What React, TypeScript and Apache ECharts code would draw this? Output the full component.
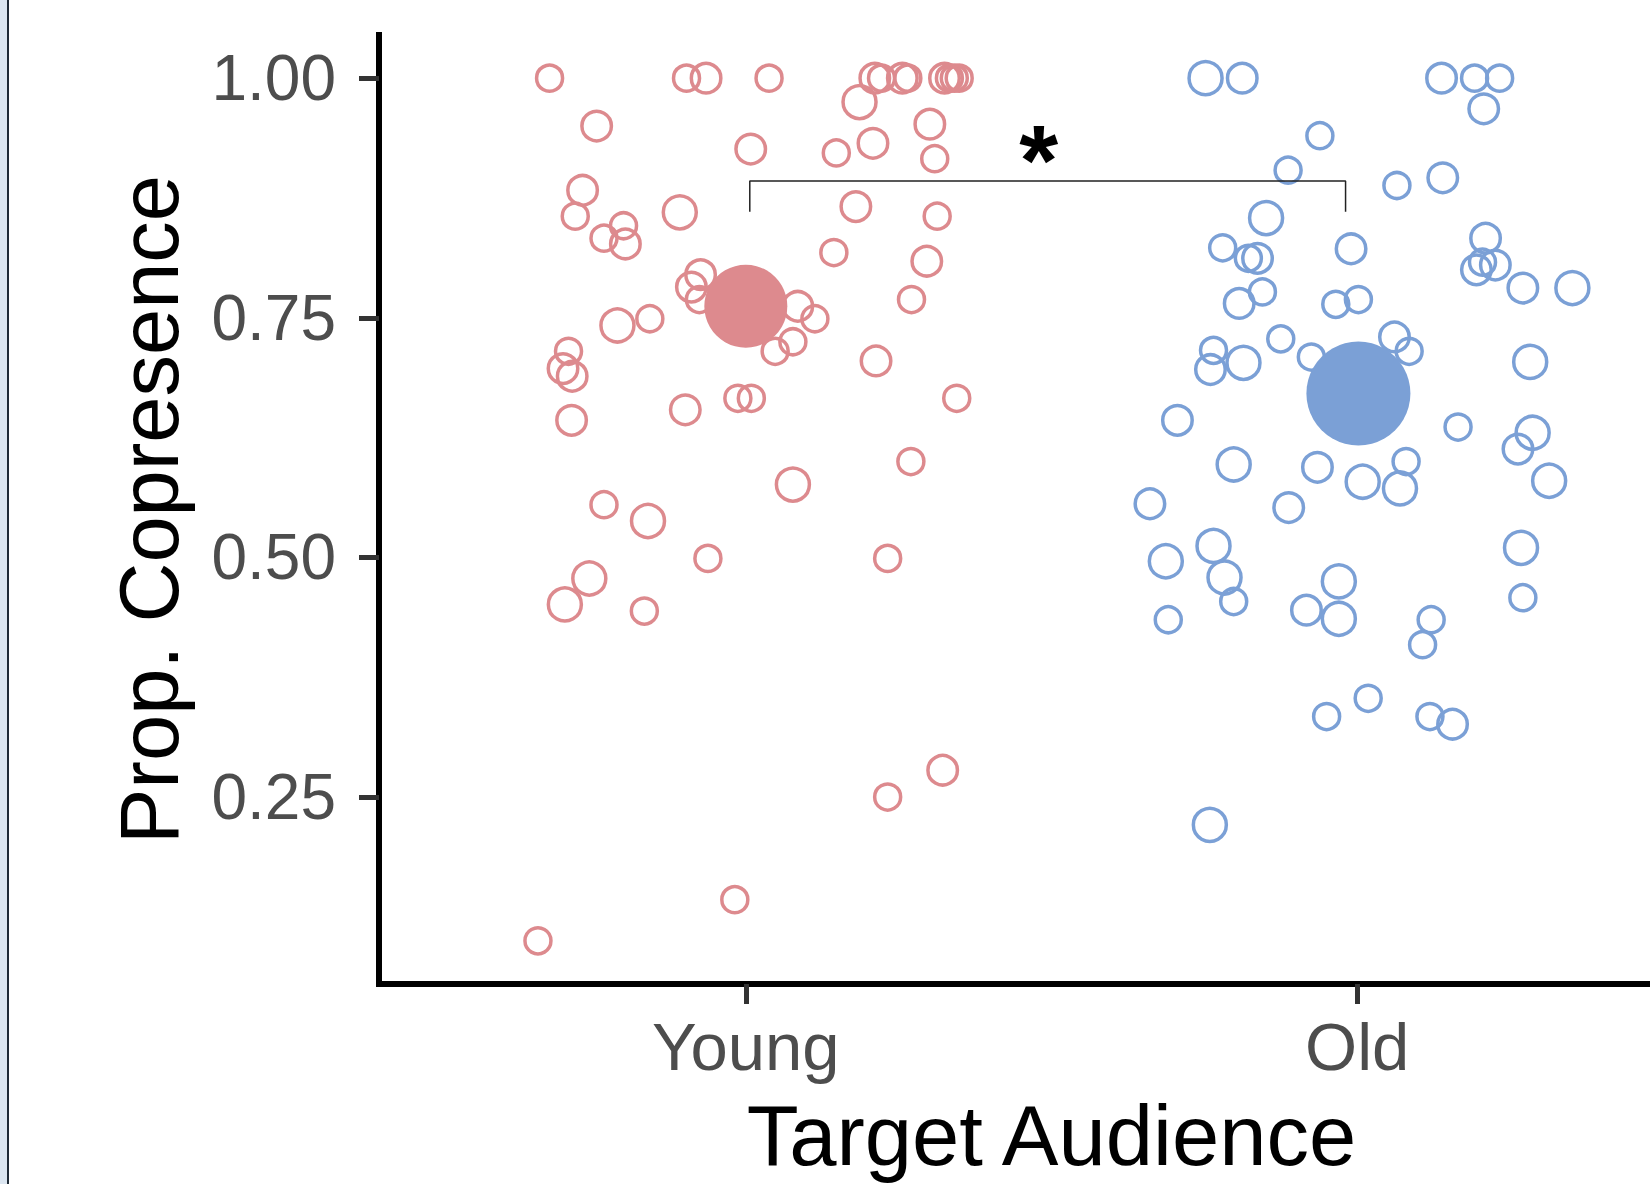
import React, { useEffect, useRef } from "react";
import * as echarts from "echarts";

// ---------- data ----------
const categories = ["Young", "Old"];
const yTickValues = [0.25, 0.5, 0.75, 1.0];

// Young group: jittered x position (1 = Young), proportion, point weight
const youngJitterX = [
  0.679, 0.903, 0.935, 1.038, 1.211, 1.222, 1.256, 1.265, 1.325, 1.333, 1.341, 1.349,
  1.186, 0.756, 1.008, 1.148, 1.208, 1.301, 1.309, 0.733, 0.721, 0.8, 0.768, 0.803,
  0.892, 1.18, 1.313, 1.144, 1.296, 1.271, 0.926, 0.911, 0.924, 1.085, 1.113, 1.077,
  1.048, 0.79, 0.843, 0.71, 0.701, 0.716, 1.213, 0.715, 0.901, 0.987, 1.009, 1.345,
  1.27, 1.077, 0.768, 0.84, 0.938, 1.232, 0.744, 0.704, 0.834, 1.322, 1.232, 0.982, 0.66,
];
const youngProp = [
  1.0, 1.0, 1.0, 1.0, 1.0, 1.0, 1.0, 1.0, 1.0, 1.0, 1.0, 1.0,
  0.975, 0.95, 0.926, 0.922, 0.932, 0.952, 0.916, 0.883, 0.856, 0.846, 0.833, 0.827,
  0.86, 0.866, 0.856, 0.818, 0.809, 0.769, 0.795, 0.782, 0.769, 0.762, 0.749, 0.725,
  0.715, 0.742, 0.749, 0.715, 0.697, 0.689, 0.705, 0.643, 0.654, 0.666, 0.666, 0.666,
  0.6, 0.576, 0.555, 0.538, 0.499, 0.499, 0.478, 0.451, 0.444, 0.278, 0.25, 0.143, 0.1,
];
const youngWeight = [
  1, 1, 2, 1, 2, 1, 2, 1, 2, 1, 1, 1,
  3, 2, 2, 1, 2, 2, 1, 2, 1, 1, 1, 2,
  3, 2, 1, 1, 2, 1, 2, 2, 1, 2, 1, 1,
  1, 3, 1, 1, 2, 2, 2, 2, 2, 1, 1, 1,
  1, 3, 1, 3, 1, 1, 3, 3, 1, 2, 1, 1, 1,
];

// Old group: jittered x position (2 = Old), proportion, point weight
const oldJitterX = [
  1.752, 1.812, 2.138, 2.192, 2.233, 2.207, 1.939, 1.887, 2.065, 2.14, 1.851, 1.99,
  1.78, 1.822, 1.837, 1.845, 1.807, 1.965, 2.002, 2.21, 2.195, 2.205, 2.226, 2.271,
  2.352, 1.875, 1.765, 1.76, 1.814, 1.925, 2.061, 2.085, 2.283, 1.706, 2.165, 2.287,
  2.263, 2.314, 1.798, 1.935, 2.009, 2.07, 2.08, 1.661, 1.888, 2.268, 1.687, 1.765,
  1.783, 1.798, 1.691, 1.97, 1.917, 1.97, 2.271, 2.121, 2.107, 2.018, 1.95, 2.119,
  2.156, 1.759,
];
const oldProp = [
  1.0, 1.0, 1.0, 1.0, 1.0, 0.968, 0.94, 0.904, 0.888, 0.896, 0.854, 0.822,
  0.823, 0.812, 0.812, 0.777, 0.765, 0.764, 0.769, 0.833, 0.8, 0.808, 0.805, 0.781,
  0.781, 0.728, 0.716, 0.696, 0.703, 0.709, 0.73, 0.715, 0.704, 0.643, 0.636, 0.63,
  0.613, 0.58, 0.597, 0.594, 0.579, 0.572, 0.6, 0.556, 0.552, 0.51, 0.496, 0.512,
  0.479, 0.454, 0.435, 0.475, 0.445, 0.436, 0.458, 0.435, 0.409, 0.353, 0.334, 0.334,
  0.326, 0.221,
];
const oldWeight = [
  3, 2, 2, 1, 1, 2, 1, 1, 1, 2, 3, 2,
  1, 1, 2, 1, 2, 1, 1, 2, 2, 1, 2, 2,
  3, 1, 1, 2, 3, 1, 2, 1, 3, 2, 1, 3,
  2, 3, 3, 2, 3, 3, 1, 2, 2, 3, 3, 3,
  3, 1, 1, 3, 2, 3, 1, 1, 1, 1, 1, 1,
  2, 3,
];

// group means
const meanX = [1.0, 2.002];
const meanProp = [0.762, 0.671];

// significance bracket
const bracketX = [1.0065, 1.981];
const bracketY = [0.8606, 0.8926];
const sigLabel = "*";
const sigPos = [1.479, 0.9276];

// ---------- style ----------
const PINK = "#DD8A8E";
const BLUE = "#7BA0D6";
const FONT = "'Liberation Sans', Arial, Helvetica, sans-serif";
const weightSize: Record<number, number> = { 1: 26, 2: 29.5, 3: 33 };

export default function App() {
  const ref = useRef<HTMLDivElement>(null);

  useEffect(() => {
    if (!ref.current) return;
    const chart = echarts.init(ref.current, undefined, { renderer: "svg" });

    const young = youngJitterX.map((x, i) => [x, youngProp[i], youngWeight[i]]);
    const old = oldJitterX.map((x, i) => [x, oldProp[i], oldWeight[i]]);

    const option: any = {
      animation: false,
      backgroundColor: "#ffffff",
      grid: { left: 379, right: 16, top: 35, bottom: 200 },
      xAxis: {
        type: "value",
        min: 0.4,
        max: 2.6,
        splitLine: { show: false },
        axisLine: { show: true, lineStyle: { color: "#000", width: 6, cap: "square" } },
        axisTick: {
          show: true,
          length: 20,
          customValues: [1, 2],
          lineStyle: { color: "#333", width: 5 },
        },
        axisLabel: {
          customValues: [1, 2],
          formatter: (v: number) => categories[Math.round(v) - 1] ?? "",
          fontSize: 67,
          color: "#4D4D4D",
          fontFamily: FONT,
          margin: 29,
        },
        name: "Target Audience",
        nameLocation: "middle",
        nameGap: 109,
        nameTextStyle: { fontSize: 85, color: "#000", fontFamily: FONT },
      },
      yAxis: {
        type: "value",
        min: 0.055,
        max: 1.045,
        splitLine: { show: false },
        axisLine: { show: true, lineStyle: { color: "#000", width: 6, cap: "square" } },
        axisTick: {
          show: true,
          length: 20,
          customValues: yTickValues,
          lineStyle: { color: "#333", width: 5 },
        },
        axisLabel: {
          customValues: yTickValues,
          formatter: (v: number) => v.toFixed(2),
          fontSize: 64,
          color: "#4D4D4D",
          fontFamily: FONT,
          margin: 43,
        },
        name: "Prop. Copresence",
        nameLocation: "middle",
        nameGap: 188,
        nameTextStyle: { fontSize: 83, color: "#000", fontFamily: FONT },
      },
      graphic: [
        { type: "rect", shape: { x: 0, y: 0, width: 7, height: 1184 }, style: { fill: "#DCE6F1" }, z: 100 },
        { type: "line", shape: { x1: 8, y1: 0, x2: 8, y2: 1184 }, style: { stroke: "#1F2A36", lineWidth: 2 }, z: 100 },
      ],
      series: [
        {
          name: "Young",
          type: "scatter",
          data: young,
          symbol: "circle",
          symbolSize: (val: number[]) => weightSize[val[2]],
          itemStyle: { color: "rgba(0,0,0,0)", borderColor: PINK, borderWidth: 3.5, opacity: 1 },
          z: 2,
        },
        {
          name: "Old",
          type: "scatter",
          data: old,
          symbol: "circle",
          symbolSize: (val: number[]) => weightSize[val[2]],
          itemStyle: { color: "rgba(0,0,0,0)", borderColor: BLUE, borderWidth: 3.5, opacity: 1 },
          z: 2,
        },
        {
          name: "Young mean",
          type: "scatter",
          data: [[meanX[0], meanProp[0]]],
          symbolSize: 83,
          itemStyle: { color: PINK, opacity: 1 },
          z: 3,
        },
        {
          name: "Old mean",
          type: "scatter",
          data: [[meanX[1], meanProp[1]]],
          symbolSize: 104,
          itemStyle: { color: BLUE, opacity: 1 },
          z: 3,
        },
        {
          name: "bracket",
          type: "line",
          data: [
            [bracketX[0], bracketY[0]],
            [bracketX[0], bracketY[1]],
            [bracketX[1], bracketY[1]],
            [bracketX[1], bracketY[0]],
          ],
          symbol: "none",
          lineStyle: { color: "#222", width: 1.5 },
          z: 4,
        },
        {
          name: "sig",
          type: "scatter",
          data: [sigPos],
          symbolSize: 0,
          itemStyle: { opacity: 1 },
          label: {
            show: true,
            position: "inside",
            formatter: sigLabel,
            fontSize: 100,
            fontWeight: "bold",
            color: "#000",
            textBorderWidth: 0,
            fontFamily: FONT,
            offset: [0, 12],
          },
          z: 5,
        },
      ],
    };

    chart.setOption(option);
    return () => chart.dispose();
  }, []);

  return (
    <div
      style={{
        position: "absolute",
        left: 0,
        top: 0,
        width: 1650,
        height: 1184,
        overflow: "hidden",
        background: "#fff",
      }}
    >
      <div ref={ref} style={{ width: 1740, height: 1184 }} />
    </div>
  );
}
